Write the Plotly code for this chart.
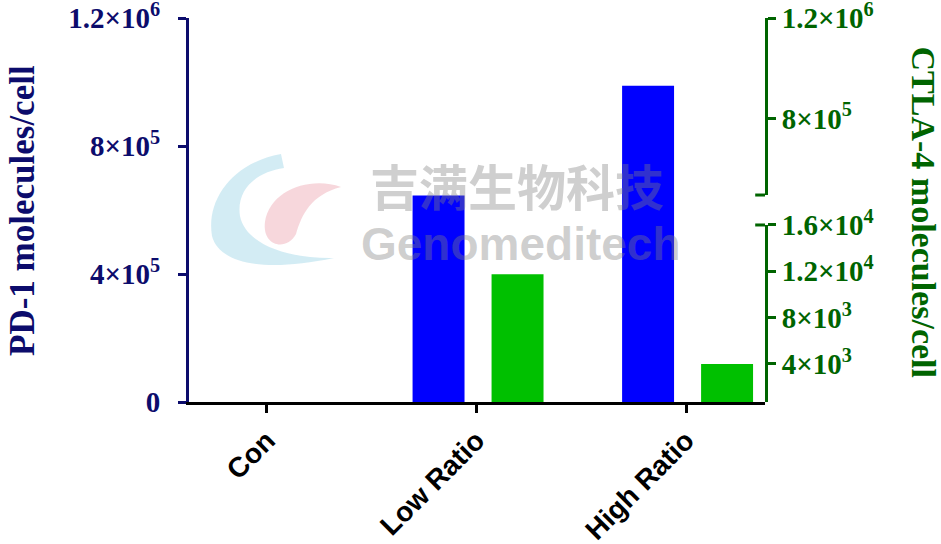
import plotly.graph_objects as go

categories = ["Con", "Low Ratio", "High Ratio"]
pd1_values = [0, 645000, 988000]
ctla4_values = [0, 11750, 4000]

left_tickvals = [0, 400000, 800000, 1200000]
left_ticktext = ["0", "4×10<sup>5</sup>", "8×10<sup>5</sup>", "1.2×10<sup>6</sup>"]
right_low_tickvals = [4000, 8000, 12000, 16000]
right_low_ticktext = ["4×10<sup>3</sup>", "8×10<sup>3</sup>", "1.2×10<sup>4</sup>", "1.6×10<sup>4</sup>"]
right_high_tickvals = [800000, 1200000]
right_high_ticktext = ["8×10<sup>5</sup>", "1.2×10<sup>6</sup>"]

NAVY = "#0c0c6c"
DGREEN = "#006400"
serif = dict(family="Liberation Serif", size=29, weight="bold")

# plot area in pixels (used only for placing the decorative watermark)
PL, PT, PW, PH = 189, 18, 576, 384


def to_paper(cmds):
    out = []
    for c in cmds:
        if isinstance(c, str):
            out.append(c)
        else:
            px, py = c
            out.append(f"{(px - PL) / PW:.4f},{(PT + PH - py) / PH:.4f}")
    return " ".join(out)


crescent = to_paper(["M", (281, 154), "C", (232, 163), (206, 200), (212, 236),
                     "C", (219, 263), (262, 273), (334, 258),
                     "C", (292, 259), (246, 246), (240, 216),
                     "C", (236, 190), (256, 172), (284, 168), "Z"])
drop = to_paper(["M", (341, 187), "C", (310, 176), (270, 190), (265, 222),
                 "C", (262, 246), (286, 252), (296, 234),
                 "C", (302, 214), (311, 195), (341, 187), "Z"])

fig = go.Figure()
fig.add_trace(go.Bar(x=categories, y=pd1_values, yaxis="y", marker_color="#0000ff",
                     marker_line_width=0, width=0.248, offset=-0.305, showlegend=False))
fig.add_trace(go.Bar(x=categories, y=ctla4_values, yaxis="y2", marker_color="#00c000",
                     marker_line_width=0, width=0.248, offset=0.072, showlegend=False))
fig.add_trace(go.Scatter(x=categories, y=[None, None, None], yaxis="y3",
                         showlegend=False, hoverinfo="skip"))

axis_common = dict(showgrid=False, zeroline=False, showline=True, linewidth=3,
                   ticks="outside", ticklen=8, tickwidth=3, fixedrange=True,
                   automargin=False, ticklabeloverflow="allow")

fig.update_layout(
    width=941, height=544,
    margin=dict(l=PL, r=941 - PL - PW, t=PT, b=544 - PT - PH, autoexpand=False),
    paper_bgcolor="white", plot_bgcolor="rgba(0,0,0,0)",
    barmode="overlay",
    xaxis=dict(range=[-0.372, 2.377], showline=True, linecolor="black", linewidth=3,
               ticks="outside", ticklen=8, tickwidth=3, tickcolor="black",
               showgrid=False, zeroline=False, tickangle=-45, automargin=False,
               ticklabeloverflow="allow", fixedrange=True,
               tickfont=dict(family="Liberation Sans", size=28, weight="bold", color="black")),
    yaxis=dict(range=[0, 1200000], domain=[0, 1], tickvals=left_tickvals, ticktext=left_ticktext,
               linecolor=NAVY, tickcolor=NAVY, tickfont=dict(color=NAVY, **serif),
               ticklabelstandoff=12, **axis_common),
    yaxis2=dict(range=[720, 16000], domain=[0, 0.461], anchor="x", side="right",
                tickvals=right_low_tickvals, ticktext=right_low_ticktext,
                linecolor=DGREEN, tickcolor=DGREEN, tickfont=dict(color=DGREEN, **serif),
                **axis_common),
    yaxis3=dict(range=[495000, 1200000], domain=[0.539, 1], anchor="x", side="right",
                tickvals=right_high_tickvals, ticktext=right_high_ticktext,
                linecolor=DGREEN, tickcolor=DGREEN, tickfont=dict(color=DGREEN, **serif),
                **axis_common),
    shapes=[
        dict(type="line", xref="paper", yref="y3 domain", x0=0.983, x1=1.0, y0=0, y1=0,
             line=dict(color=DGREEN, width=3)),
        dict(type="line", xref="paper", yref="y2 domain", x0=0.983, x1=1.0, y0=1, y1=1,
             line=dict(color=DGREEN, width=3)),
        dict(type="path", xref="paper", yref="paper", layer="above", path=crescent,
             fillcolor="rgba(175,220,235,0.55)", line=dict(width=0)),
        dict(type="path", xref="paper", yref="paper", layer="above", path=drop,
             fillcolor="rgba(240,175,185,0.50)", line=dict(width=0)),
    ],
    annotations=[
        dict(text="PD-1 molecules/cell", xref="paper", yref="paper", x=-0.29, y=0.5,
             textangle=-90, showarrow=False, xanchor="center", yanchor="middle",
             font=dict(family="Liberation Serif", size=35, weight="bold", color=NAVY)),
        dict(text="CTLA-4 molecules/cell", xref="paper", yref="paper", x=1.275, y=0.495,
             textangle=90, showarrow=False, xanchor="center", yanchor="middle",
             font=dict(family="Liberation Serif", size=34, weight="bold", color=DGREEN)),
        dict(text="吉满生物科技", xref="paper", yref="paper", x=(517 - PL) / PW, y=(PT + PH - 184) / PH,
             showarrow=False, xanchor="center", yanchor="middle",
             font=dict(family="Noto Sans CJK SC", size=49, weight="bold", color="rgba(128,128,128,0.38)")),
        dict(text="Genomeditech", xref="paper", yref="paper", x=(521 - PL) / PW, y=(PT + PH - 244) / PH,
             showarrow=False, xanchor="center", yanchor="middle",
             font=dict(family="Liberation Sans", size=46, weight="bold", color="rgba(128,128,128,0.38)")),
    ],
)

fig.write_html("out.html", config={"displayModeBar": False, "staticPlot": True},
               post_script="document.body.style.margin='0';")
